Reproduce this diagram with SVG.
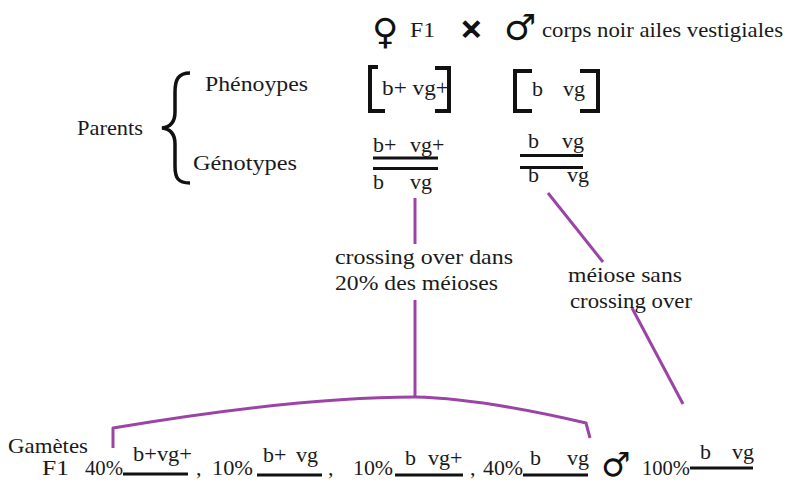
<svg xmlns="http://www.w3.org/2000/svg" width="788" height="484" viewBox="0 0 788 484">
<style>
.t{font-size:22px;fill:#1a1a1a}
.sym{font-family:'DejaVu Sans',sans-serif;font-weight:bold;fill:#111}
.br{fill:none;stroke:#111;stroke-width:4;stroke-linecap:butt}
.bar{stroke:#111;stroke-width:3}
.pl{fill:none;stroke:#9c44a6;stroke-width:3;stroke-linejoin:round}
</style>
<rect width="788" height="484" fill="#fff"/>
<g font-family="Liberation Serif, Times New Roman, serif">
<g id="cross-header">
<text class="sym" x="372" y="44" font-size="36">♀</text>
<text class="t" x="410" y="37" textLength="25" lengthAdjust="spacingAndGlyphs">F1</text>
<text class="sym" x="460" y="39" font-size="27" stroke="#111" stroke-width="1.5">✕</text>
<text class="sym" x="504" y="40" font-size="36">♂</text>
<text class="t" x="542" y="37" textLength="241" lengthAdjust="spacingAndGlyphs">corps noir ailes vestigiales</text>
</g>
<g id="parents-label">
<text class="t" x="77" y="135" textLength="66" lengthAdjust="spacingAndGlyphs">Parents</text>
<path d="M190,73 C178,73 175,80 175,92 L175,112 C175,122 171,127 162,128 C171,129 175,134 175,144 L175,166 C175,178 178,183 190,183" fill="none" stroke="#111" stroke-width="3.5"/>
<text class="t" x="205" y="91" textLength="103" lengthAdjust="spacingAndGlyphs">Phénoypes</text>
<text class="t" x="193" y="170" textLength="104" lengthAdjust="spacingAndGlyphs">Génotypes</text>
</g>
<g id="phenotype-female">
<path class="br" d="M378,67 L370,67 L370,111 L385,111"/>
<path class="br" d="M435,68 L449,68 L449,111 L435,111"/>
<text class="t" x="382" y="95" textLength="67" lengthAdjust="spacingAndGlyphs">b+ vg+</text>
</g>
<g id="phenotype-male">
<path class="br" d="M532,71 L515,71 L515,111 L532,111"/>
<path class="br" d="M580,71 L598,71 L598,111 L580,111"/>
<text class="t" x="532" y="96">b</text>
<text class="t" x="563" y="96">vg</text>
</g>
<g id="genotype-female">
<text class="t" x="373" y="152">b+</text>
<text class="t" x="410" y="152">vg+</text>
<line class="bar" x1="373" y1="158" x2="438" y2="158"/>
<line class="bar" x1="373" y1="168.5" x2="438" y2="168.5"/>
<text class="t" x="373" y="189">b</text>
<text class="t" x="410" y="189">vg</text>
</g>
<g id="genotype-male">
<text class="t" x="528" y="148">b</text>
<text class="t" x="562" y="148">vg</text>
<line class="bar" x1="520" y1="155.5" x2="583" y2="155.5"/>
<line class="bar" x1="520" y1="167.5" x2="583" y2="167.5"/>
<text class="t" x="528" y="182">b</text>
<text class="t" x="567" y="182">vg</text>
</g>
<g id="connectors">
<line class="pl" x1="415" y1="198" x2="415" y2="244"/>
<line class="pl" x1="415" y1="300" x2="415" y2="397"/>
<path class="pl" d="M113,448 L113,428 C250,405 350,397 415,397 C470,398 530,410 586,423 L590,438"/>
<line class="pl" x1="548" y1="193" x2="603" y2="262"/>
<line class="pl" x1="632" y1="308" x2="683" y2="404"/>
</g>
<g id="label-crossing">
<text class="t" x="335" y="264" textLength="178" lengthAdjust="spacingAndGlyphs">crossing over dans</text>
<text class="t" x="335" y="290" textLength="163" lengthAdjust="spacingAndGlyphs">20% des méioses</text>
</g>
<g id="label-sans">
<text class="t" x="568" y="282" textLength="114" lengthAdjust="spacingAndGlyphs">méiose sans</text>
<text class="t" x="570" y="308" textLength="122" lengthAdjust="spacingAndGlyphs">crossing over</text>
</g>
<g id="gametes-f1">
<text class="t" x="8" y="453" textLength="80" lengthAdjust="spacingAndGlyphs">Gamètes</text>
<text class="t" x="42" y="475" textLength="27" lengthAdjust="spacingAndGlyphs">F1</text>
<text class="t" x="85" y="475" textLength="38" lengthAdjust="spacingAndGlyphs">40%</text>
<text class="t" x="133" y="461" textLength="59" lengthAdjust="spacingAndGlyphs">b+vg+</text>
<line class="bar" x1="123" y1="474" x2="188" y2="474"/>
<text class="t" x="196" y="475">,</text>
<text class="t" x="212" y="475" textLength="41" lengthAdjust="spacingAndGlyphs">10%</text>
<text class="t" x="263" y="462">b+</text>
<text class="t" x="296" y="462">vg</text>
<line class="bar" x1="257" y1="475" x2="322" y2="475"/>
<text class="t" x="328" y="475">,</text>
<text class="t" x="353" y="475" textLength="40" lengthAdjust="spacingAndGlyphs">10%</text>
<text class="t" x="405" y="465">b</text>
<text class="t" x="428" y="465">vg+</text>
<line class="bar" x1="395" y1="475" x2="463" y2="475"/>
<text class="t" x="470" y="475">,</text>
<text class="t" x="483" y="475" textLength="40" lengthAdjust="spacingAndGlyphs">40%</text>
<text class="t" x="530" y="465">b</text>
<text class="t" x="567" y="465">vg</text>
<line class="bar" x1="523" y1="475" x2="588" y2="475"/>
</g>
<g id="gametes-male">
<text class="sym" x="601" y="476" font-size="33">♂</text>
<text class="t" x="642" y="475" textLength="48" lengthAdjust="spacingAndGlyphs">100%</text>
<text class="t" x="700" y="459">b</text>
<text class="t" x="732" y="459">vg</text>
<line class="bar" x1="690" y1="468" x2="753" y2="468"/>
</g>
</g>
</svg>
